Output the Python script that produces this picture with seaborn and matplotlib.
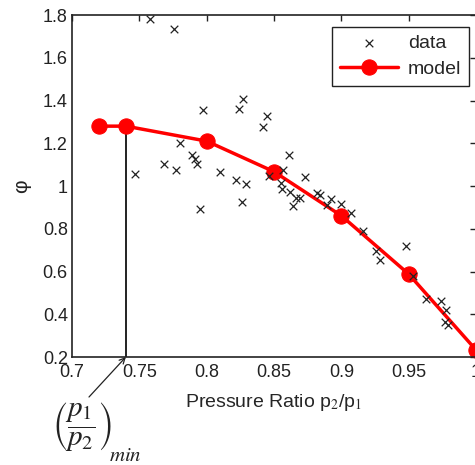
import numpy as np
import pandas as pd
import matplotlib
matplotlib.use("Agg")
import matplotlib.pyplot as plt
import seaborn as sns

# ---- data ----
data_x = [0.758, 0.776, 0.797, 0.827, 0.824, 0.845, 0.842, 0.780, 0.789, 0.791,
          0.793, 0.768, 0.777, 0.747, 0.810, 0.822, 0.829, 0.826, 0.795, 0.846,
          0.861, 0.857, 0.855, 0.856, 0.862, 0.866, 0.869, 0.864, 0.873, 0.882,
          0.884, 0.892, 0.889, 0.900, 0.907, 0.916, 0.926, 0.929, 0.948, 0.953,
          0.963, 0.974, 0.978, 0.977, 0.979]
data_y = [1.780, 1.733, 1.356, 1.409, 1.362, 1.327, 1.275, 1.199, 1.144, 1.128,
          1.103, 1.103, 1.075, 1.055, 1.067, 1.027, 1.008, 0.924, 0.891, 1.047,
          1.145, 1.075, 1.016, 0.986, 0.972, 0.946, 0.944, 0.905, 1.042, 0.965,
          0.958, 0.938, 0.911, 0.917, 0.876, 0.789, 0.698, 0.655, 0.719, 0.581,
          0.473, 0.462, 0.420, 0.365, 0.350]
model_x = [0.72, 0.74, 0.80, 0.85, 0.90, 0.95, 1.00]
model_y = [1.28, 1.28, 1.21, 1.067, 0.861, 0.588, 0.233]
pr_min = 0.74
pr_min_phi = 1.28

x_ticks = [0.7, 0.75, 0.8, 0.85, 0.9, 0.95, 1.0]
x_tick_labels = ["0.7", "0.75", "0.8", "0.85", "0.9", "0.95", "1"]
y_ticks = [0.2, 0.4, 0.6, 0.8, 1.0, 1.2, 1.4, 1.6, 1.8]
y_tick_labels = ["0.2", "0.4", "0.6", "0.8", "1", "1.2", "1.4", "1.6", "1.8"]

sns.set_style("white")
plt.rcParams["font.family"] = ["Liberation Sans", "DejaVu Sans"]
plt.rcParams["mathtext.fontset"] = "stix"

fig = plt.figure(figsize=(4.75, 4.65), dpi=100)
ax = fig.add_axes([72 / 475, 1 - 357 / 465, 404 / 475, 342 / 465])

df_data = pd.DataFrame({"x": data_x, "y": data_y})
df_model = pd.DataFrame({"x": model_x, "y": model_y})

sns.scatterplot(data=df_data, x="x", y="y", marker="x", color="#222222",
                s=30, linewidth=0.9, label="data", ax=ax, zorder=3)
sns.lineplot(data=df_model, x="x", y="y", color="red", marker="o",
             markersize=11, markeredgecolor="red", linewidth=2.5,
             label="model", ax=ax, zorder=2, clip_on=False)

ax.plot([pr_min, pr_min], [0.2, pr_min_phi], color="#222222", linewidth=1.4, zorder=1)

ax.set_xlim(0.7, 1.0)
ax.set_ylim(0.2, 1.8)
ax.set_xticks(x_ticks)
ax.set_xticklabels(x_tick_labels)
ax.set_yticks(y_ticks)
ax.set_yticklabels(y_tick_labels)
ax.tick_params(direction="in", top=True, right=True, length=4, width=1,
               labelsize=13, pad=3, colors="#222222")
ax.tick_params(axis="x", pad=5)
for s in ax.spines.values():
    s.set_color("#222222")
    s.set_linewidth(1.2)

ax.set_xlabel("Pressure Ratio p$_2$/p$_1$", fontsize=14, labelpad=8)
ax.set_ylabel("")
fig.text(22 / 475, 1 - 186 / 465, "\u03c6", rotation=90, fontsize=15,
         ha="center", va="center", color="#222222")

leg = ax.legend(loc="upper right", bbox_to_anchor=(0.983, 0.965),
                borderaxespad=0.0,
                fancybox=False, edgecolor="#222222", framealpha=1,
                fontsize=14, borderpad=0.4, handlelength=3.0,
                labelspacing=0.4, handletextpad=0.5)
leg.get_frame().set_linewidth(1.0)

# annotation: arrow and math label
ax.annotate("", xy=(pr_min, 0.2), xycoords="data",
            xytext=(89 / 475, 1 - 397 / 465), textcoords="figure fraction",
            arrowprops=dict(arrowstyle="->", color="#222222", lw=0.9,
                            shrinkA=0, shrinkB=0),
            annotation_clip=False)
fig.text(81.5 / 475, 1 - 427 / 465, r"$\left(\dfrac{p_1}{p_2}\right)$",
         ha="center", va="center", fontsize=21, color="#222222")
fig.text(109 / 475, 1 - 455 / 465, r"$min$",
         ha="left", va="center", fontsize=15, color="#222222")

fig.savefig("out.png", dpi=100)
